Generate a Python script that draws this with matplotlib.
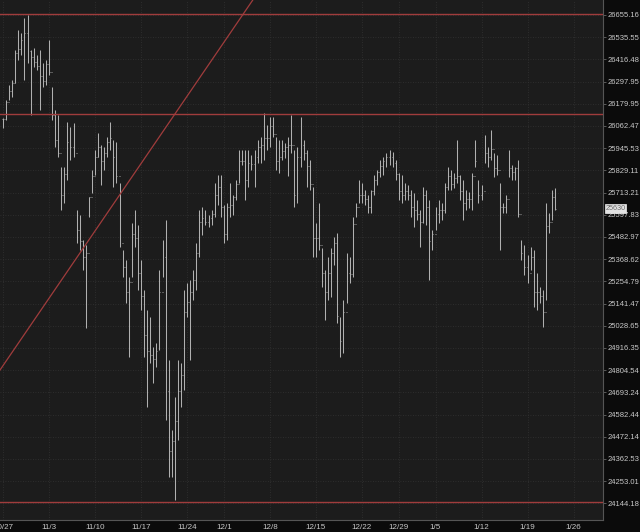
import numpy as np
import pandas as pd
import matplotlib
matplotlib.use("Agg")
import matplotlib.pyplot as plt
from matplotlib.ticker import NullLocator
from matplotlib.transforms import blended_transform_factory

# ---- data (3 bars per trading day) ----
highs = [
    26104, 26200, 26280, 26307, 26467, 26574, 26558, 26639, 26655, 26467,
    26478, 26440, 26467, 26397, 26413, 26520, 26269, 26147, 26120, 25847,
    25847, 26083, 26057, 26078, 25623, 25597, 25468, 25442, 25690, 25831,
    25936, 26025, 25962, 25952, 26004, 26083, 25989, 25978, 25763, 25416,
    25365, 25277, 25555, 25623, 25545, 25365, 25211, 25109, 25073, 24921,
    24941, 25313, 25468, 25571, 24856, 24505, 24670, 24856, 24840, 25211,
    25247, 25262, 25313, 25452, 25623, 25639, 25623, 25597, 25623, 25763,
    25805, 25805, 25649, 25659, 25763, 25701, 25779, 25936, 25936, 25936,
    25936, 25910, 25936, 25989, 26004, 26131, 26067, 26110, 26110, 26004,
    25989, 25989, 25973, 26004, 26120, 25936, 25952, 26110, 25989, 25936,
    25884, 25742, 25555, 25659, 25426, 25313, 25380, 25426, 25483, 25504,
    25073, 25160, 25401, 25380, 25586, 25659, 25779, 25763, 25727, 25701,
    25727, 25805, 25831, 25884, 25900, 25920, 25936, 25926, 25884, 25816,
    25805, 25763, 25753, 25727, 25711, 25675, 25623, 25742, 25727, 25675,
    25519, 25639, 25675, 25659, 25763, 25847, 25831, 25816, 25989, 25805,
    25779, 25727, 25717, 25816, 25989, 25779, 25753, 26015, 25952, 26041,
    25920, 25910, 25763, 25659, 25701, 25936, 25857, 25847, 25884, 25468,
    25442, 25390, 25432, 25416, 25298, 25226, 25211, 25659, 25607, 25727,
    25737,
]
lows = [
    26052, 26094, 26200, 26216, 26291, 26413, 26440, 26307, 26397, 26120,
    26376, 26360, 26147, 26269, 26280, 26333, 26094, 25952, 25900, 25623,
    25659, 25779, 25884, 25900, 25452, 25416, 25313, 25018, 25586, 25711,
    25805, 25900, 25753, 25831, 25900, 25936, 25742, 25763, 25432, 25277,
    25145, 24871, 25277, 25432, 25211, 25109, 24871, 24620, 24840, 24740,
    24820, 24906, 25277, 24555, 24274, 24274, 24161, 24456, 24620, 24705,
    25073, 24856, 25160, 25211, 25380, 25493, 25545, 25535, 25545, 25586,
    25649, 25586, 25452, 25468, 25586, 25597, 25675, 25763, 25857, 25675,
    25742, 25831, 25742, 25868, 25868, 25884, 25936, 25952, 26004, 25831,
    25816, 25884, 25894, 25800, 25920, 25639, 25659, 25847, 25884, 25742,
    25727, 25380, 25380, 25416, 25226, 25058, 25160, 25175, 25339, 25043,
    24871, 24891, 25145, 25247, 25277, 25586, 25659, 25659, 25649, 25607,
    25607, 25701, 25753, 25795, 25805, 25847, 25857, 25847, 25779, 25675,
    25659, 25675, 25675, 25586, 25535, 25571, 25432, 25555, 25545, 25262,
    25416, 25519, 25555, 25571, 25607, 25727, 25727, 25737, 25763, 25675,
    25571, 25623, 25633, 25623, 25847, 25659, 25675, 25868, 25847, 25884,
    25795, 25805, 25416, 25607, 25607, 25795, 25779, 25779, 25586, 25365,
    25288, 25247, 25313, 25124, 25109, 25145, 25022, 25160, 25504, 25571,
    25623,
]
closes = [
    26100, 26190, 26250, 26290, 26450, 26470, 26520, 26560, 26460, 26430,
    26400, 26380, 26330, 26300, 26390, 26350, 26120, 25990, 25920, 25700,
    25810, 25980, 25950, 25920, 25520, 25460, 25380, 25400, 25690, 25800,
    25900, 25950, 25880, 25920, 25980, 26000, 25900, 25800, 25450, 25330,
    25200, 25250, 25500, 25480, 25300, 25180, 24980, 24900, 24880, 24860,
    24900, 25200, 25380, 24700, 24400, 24450, 24550, 24700, 24780, 25100,
    25150, 25200, 25260, 25400, 25560, 25580, 25560, 25580, 25600, 25700,
    25740, 25640, 25500, 25640, 25650, 25690, 25760, 25880, 25880, 25780,
    25870, 25860, 25900, 25950, 25960, 26000, 26000, 26060, 26020, 25880,
    25900, 25930, 25950, 25960, 25960, 25700, 25900, 25960, 25920, 25850,
    25760, 25480, 25480, 25440, 25300, 25200, 25300, 25400, 25450, 25080,
    24950, 25100, 25300, 25290, 25550, 25640, 25700, 25700, 25680, 25640,
    25720, 25780, 25820, 25850, 25880, 25900, 25900, 25870, 25810, 25720,
    25700, 25720, 25700, 25640, 25620, 25600, 25560, 25700, 25640, 25460,
    25500, 25600, 25620, 25620, 25740, 25800, 25760, 25790, 25800, 25720,
    25660, 25680, 25680, 25800, 25880, 25700, 25720, 25920, 25900, 25940,
    25840, 25830, 25640, 25640, 25680, 25840, 25820, 25840, 25600, 25400,
    25330, 25300, 25380, 25200, 25200, 25180, 25100, 25540, 25560, 25690,
    25630,
]
last_price = 25630
bars_per_day = 3

y_ticks = [26655.16, 26535.55, 26416.48, 26297.95, 26179.95, 26062.47,
           25945.53, 25829.11, 25713.21, 25597.83, 25482.97, 25368.62,
           25254.79, 25141.47, 25028.65, 24916.35, 24804.54, 24693.24,
           24582.44, 24472.14, 24362.53, 24253.01, 24144.18]
date_labels = ["10/27", "11/3", "11/10", "11/17", "11/24", "12/1", "12/8",
               "12/15", "12/22", "12/29", "1/5", "1/12", "1/19", "1/26"]
date_values = ["2025-10-27", "2025-11-03", "2025-11-10", "2025-11-17",
               "2025-11-24", "2025-12-01", "2025-12-08", "2025-12-15",
               "2025-12-22", "2025-12-29", "2026-01-05", "2026-01-12",
               "2026-01-19", "2026-01-26"]
holidays = ["2025-11-27", "2025-12-25", "2026-01-01"]

# drawn levels
h_levels = [26660, 26127, 24150]
trend_p1 = (-0.33, 24805)
trend_p2 = (18.7, 26127)

plt.rcParams["font.family"] = ["Liberation Sans", "DejaVu Sans"]

# ---- trading-day axis ----
days = pd.bdate_range("2025-10-27", "2026-01-30")
days = days[~days.isin(pd.to_datetime(holidays))]
tick_pos = days.get_indexer(pd.to_datetime(date_values))

x = np.arange(len(highs)) / bars_per_day
opens = np.r_[closes[0], closes[:-1]]

fig = plt.figure(figsize=(6.4, 5.32), dpi=100, facecolor="#0b0b0b")
ax = fig.add_axes([0, 12 / 532, 603 / 640, 520 / 532])
ax.set_facecolor("#1c1c1c")

ax.set_yscale("log")
ax.set_ylim(24063, 26736)
ax.set_xlim(-0.326, 65.2)

# grid
ax.grid(True, color="#333333", linestyle=(0, (1, 2)), linewidth=0.6)
ax.set_axisbelow(True)

# OHLC bars
bar_col = "#b0b0b0"
ax.vlines(x, lows, highs, color=bar_col, lw=0.75, zorder=3)
ax.hlines(opens, x - 0.1, x, color=bar_col, lw=0.6, zorder=3)
ax.hlines(closes, x, x + 0.1, color=bar_col, lw=0.6, zorder=3)

# red levels + trendline
red = "#a03c3c"
for lv in h_levels:
    ax.axhline(lv, color=red, lw=1.0, zorder=4)
ax.axline(trend_p1, trend_p2, color=red, lw=0.9, zorder=4)

# axes styling
ax.set_yticks(y_ticks, [f"{v:.2f}" for v in y_ticks])
ax.yaxis.set_minor_locator(NullLocator())
ax.yaxis.tick_right()
ax.tick_params(axis="y", labelsize=5.5, labelcolor="#c8c8c8", color="#666666",
               length=2, width=0.6, pad=1.5)
ax.set_xticks(tick_pos, date_labels)
ax.xaxis.set_minor_locator(NullLocator())
ax.tick_params(axis="x", labelsize=5.8, labelcolor="#c8c8c8", length=0, pad=3)
for side in ["top", "left"]:
    ax.spines[side].set_visible(False)
for side in ["right", "bottom"]:
    ax.spines[side].set_color("#555555")
    ax.spines[side].set_linewidth(0.8)

# last price tag
trans = blended_transform_factory(ax.transAxes, ax.transData)
ax.text(1.004, last_price, f"{last_price}", transform=trans, ha="left",
        va="center", fontsize=5.2, color="#6a6a6a", zorder=6,
        bbox=dict(boxstyle="square,pad=0.12", fc="#e2e2e2", ec="#f0f0f0", lw=0.5))

fig.savefig("out.png", dpi=100, facecolor=fig.get_facecolor())
